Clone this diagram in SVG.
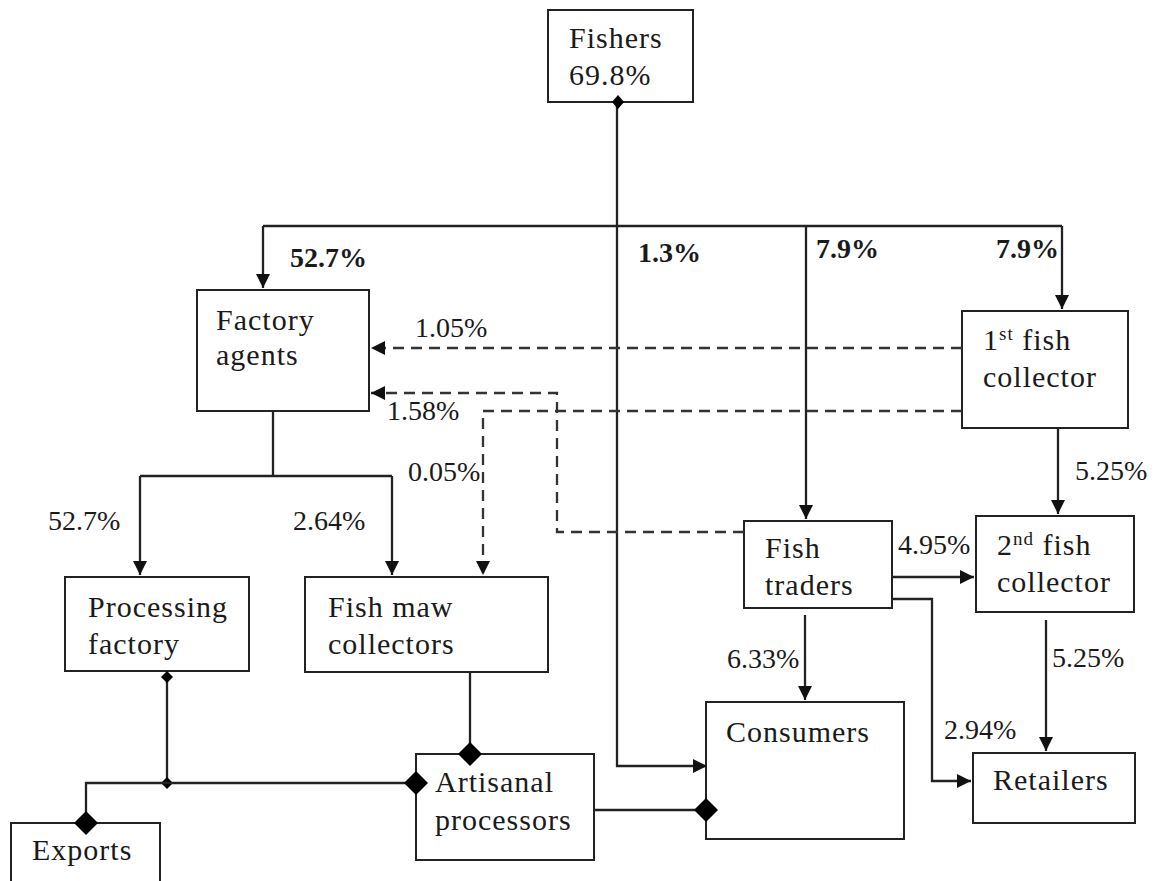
<svg xmlns="http://www.w3.org/2000/svg" width="1157" height="881" viewBox="0 0 1157 881">
  <style>
    .box { fill: #fff; stroke: #222; stroke-width: 2; }
    .ln { fill: none; stroke: #222; stroke-width: 2.3; }
    .dash { fill: none; stroke: #333; stroke-width: 2.3; stroke-dasharray: 11 7; }
    text { font-family: "Liberation Serif", Tinos, "Times New Roman", "DejaVu Serif", serif; font-size: 30px; fill: #1a1a1a; letter-spacing: 1px; }
    #labels text { font-size: 28px; letter-spacing: 0; }
    .b { font-weight: bold; }
    .sup { font-size: 19px; }
  </style>
  <defs>
    <marker id="arr" markerUnits="userSpaceOnUse" markerWidth="14" markerHeight="14" viewBox="0 0 14 14" refX="14" refY="7" orient="auto">
      <path d="M0,0 L14,7 L0,14 Z" fill="#111"/>
    </marker>
    <marker id="dBig" markerUnits="userSpaceOnUse" markerWidth="26" markerHeight="26" viewBox="0 0 26 26" refX="13" refY="13" orient="auto">
      <path d="M13,1 L25,13 L13,25 L1,13 Z" fill="#000"/>
    </marker>
    <marker id="dSmall" markerUnits="userSpaceOnUse" markerWidth="14" markerHeight="14" viewBox="0 0 14 14" refX="7" refY="7" orient="auto">
      <path d="M7,1 L13,7 L7,13 L1,7 Z" fill="#000"/>
    </marker>
  </defs>

  <g id="fishers">
    <rect class="box" x="548" y="10" width="145" height="92"/>
    <text x="569" y="48">Fishers</text>
    <text x="569" y="85">69.8%</text>
  </g>
  <g id="factory-agents">
    <rect class="box" x="197" y="290" width="172" height="121"/>
    <text x="216" y="330">Factory</text>
    <text x="216" y="365">agents</text>
  </g>
  <g id="first-collector">
    <rect class="box" x="962" y="311" width="166" height="117"/>
    <text x="983" y="350">1<tspan class="sup" dy="-10">st</tspan><tspan dy="10"> fish</tspan></text>
    <text x="983" y="387">collector</text>
  </g>
  <g id="fish-traders">
    <rect class="box" x="744" y="521" width="148" height="87"/>
    <text x="765" y="558">Fish</text>
    <text x="765" y="595">traders</text>
  </g>
  <g id="second-collector">
    <rect class="box" x="976" y="516" width="158" height="96"/>
    <text x="997" y="555">2<tspan class="sup" dy="-10">nd</tspan><tspan dy="10"> fish</tspan></text>
    <text x="997" y="592">collector</text>
  </g>
  <g id="processing-factory">
    <rect class="box" x="65" y="577" width="184" height="94"/>
    <text x="88" y="617">Processing</text>
    <text x="88" y="654">factory</text>
  </g>
  <g id="fish-maw-collectors">
    <rect class="box" x="305" y="577" width="243" height="95"/>
    <text x="328" y="617">Fish maw</text>
    <text x="328" y="654">collectors</text>
  </g>
  <g id="consumers">
    <rect class="box" x="706" y="702" width="198" height="137"/>
    <text x="726" y="742">Consumers</text>
  </g>
  <g id="retailers">
    <rect class="box" x="973" y="753" width="162" height="70"/>
    <text x="993" y="790">Retailers</text>
  </g>
  <g id="artisanal-processors">
    <rect class="box" x="416" y="754" width="178" height="106"/>
    <text x="435" y="792">Artisanal</text>
    <text x="435" y="830">processors</text>
  </g>
  <g id="exports">
    <rect class="box" x="11" y="823" width="149" height="62"/>
    <text x="32" y="860">Exports</text>
  </g>

  <!-- connectors, drawn over the boxes so the diamonds sit on the edges -->
  <g id="connectors">
    <!-- trunk from fishers: top bus and direct line to consumers -->
    <path class="ln" d="M263,226 H1062"/>
    <path class="ln" d="M617,102 V766 H707" marker-end="url(#arr)"/>
    <path class="ln" d="M263,226 V288" marker-end="url(#arr)"/>
    <path class="ln" d="M806,226 V519" marker-end="url(#arr)"/>
    <path class="ln" d="M1062,226 V309" marker-end="url(#arr)"/>

    <!-- factory agents split -->
    <path class="ln" d="M273,411 V476"/>
    <path class="ln" d="M140,476 H392"/>
    <path class="ln" d="M140,476 V575" marker-end="url(#arr)"/>
    <path class="ln" d="M392,476 V575" marker-end="url(#arr)"/>

    <!-- dashed flows -->
    <path class="dash" d="M962,348 H371" marker-end="url(#arr)"/>
    <path class="dash" d="M744,532 H557 V393 H371" marker-end="url(#arr)"/>
    <path class="dash" d="M962,411 H483 V575" marker-end="url(#arr)"/>

    <!-- collectors and traders -->
    <path class="ln" d="M1058,428 V514" marker-end="url(#arr)"/>
    <path class="ln" d="M892,577 H974" marker-end="url(#arr)"/>
    <path class="ln" d="M892,599 H932 V781 H971" marker-end="url(#arr)"/>
    <path class="ln" d="M805,615 V700" marker-end="url(#arr)"/>
    <path class="ln" d="M1046,620 V751" marker-end="url(#arr)"/>

    <!-- processing links -->
    <path class="ln" d="M167,677 V783" marker-start="url(#dSmall)" marker-end="url(#dSmall)"/>
    <path class="ln" d="M86,823 V783 H416" marker-start="url(#dBig)" marker-end="url(#dBig)"/>
    <path class="ln" d="M470,672 V754" marker-end="url(#dBig)"/>
    <path class="ln" d="M594,810 H706" marker-end="url(#dBig)"/>
    <path d="M618,95 L624,102 L618,109 L612,102 Z" fill="#000"/>
  </g>

  <!-- flow labels -->
  <g id="labels">
    <text class="b" x="290" y="267">52.7%</text>
    <text class="b" x="638" y="262">1.3%</text>
    <text class="b" x="816" y="258">7.9%</text>
    <text class="b" x="996" y="258">7.9%</text>
    <text x="415" y="337">1.05%</text>
    <text x="387" y="420">1.58%</text>
    <text x="408" y="481">0.05%</text>
    <text x="48" y="530">52.7%</text>
    <text x="293" y="530">2.64%</text>
    <text x="1075" y="480">5.25%</text>
    <text x="898" y="554">4.95%</text>
    <text x="727" y="668">6.33%</text>
    <text x="1052" y="667">5.25%</text>
    <text x="944" y="739">2.94%</text>
  </g>
</svg>
